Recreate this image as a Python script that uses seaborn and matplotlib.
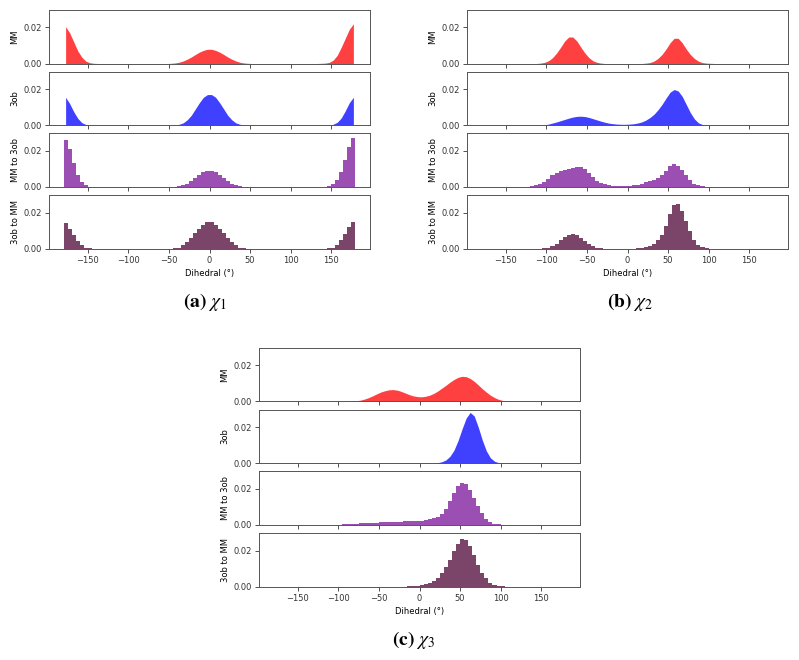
import numpy as np
import pandas as pd
import seaborn as sns
import matplotlib
matplotlib.use("Agg")
import matplotlib.pyplot as plt
from matplotlib.ticker import FormatStrFormatter

# Dihedral histograms, 5 degree bins from -180 to 180, density in units of 1e-4
edges = np.arange(-180, 181, 5)
centers = edges[:-1] + 2.5
labels = ["MM", "3ob", "MM to 3ob", "3ob to MM"]
colors = ["#ff4040", "#4040ff", "#9b4fb3", "#7b4569"]
elements = ["poly", "poly", "step", "step"]

# chi 1
chi1_mm = ([205, 170, 120, 70, 35, 13, 4, 1] + [0] * 18 + [1, 3, 7, 14, 24, 36, 50, 63, 73, 79]
           + [79, 73, 63, 50, 36, 24, 14, 7, 3, 1] + [0] * 17 + [1, 2, 6, 18, 45, 90, 140, 190, 220])
chi1_3ob = ([155, 120, 75, 38, 14, 4, 1] + [0] * 20 + [1, 5, 13, 30, 55, 90, 125, 155, 170]
            + [170, 155, 125, 90, 55, 30, 13, 5, 1] + [0] * 20 + [1, 5, 16, 40, 80, 125, 155])
chi1_mm_to_3ob = ([260, 210, 130, 65, 25, 8, 2] + [0] * 20 + [1, 4, 9, 17, 30, 48, 65, 80, 88]
                  + [88, 80, 65, 48, 30, 17, 9, 4, 1] + [0] * 19 + [1, 4, 15, 40, 85, 150, 220, 270])
chi1_3ob_to_mm = ([140, 110, 75, 42, 18, 5, 1] + [0] * 20 + [1, 6, 18, 35, 58, 85, 110, 130, 145]
                  + [145, 130, 110, 85, 58, 35, 18, 6, 1] + [0] * 20 + [1, 5, 20, 45, 80, 120, 150])

# chi 2
chi2_mm = ([0] * 14 + [2, 6, 15, 32, 58, 90, 125, 147, 147, 125, 90, 58, 32, 15, 6, 2] + [0] * 6
           + [0] * 4 + [2, 5, 13, 28, 50, 80, 115, 140, 140, 115, 80, 50, 28, 13, 5, 2, 1] + [0] * 15)
chi2_3ob = ([0] * 15 + [2, 6, 12, 18, 25, 32, 39, 45, 49, 50, 48, 43, 36, 29, 22, 16, 11, 8, 6, 5, 5]
            + [6, 8, 12, 18, 28, 42, 60, 85, 115, 150, 183, 198, 190, 160, 115, 70, 35, 13, 4, 1] + [0] * 16)
chi2_mm_to_3ob = ([0] * 10 + [1, 2, 4, 8, 15, 28, 45, 65, 78, 88, 95, 100, 103, 108, 110, 98, 78, 55,
                              35, 22, 14, 10, 7, 6, 5, 5]
                  + [6, 8, 12, 18, 25, 33, 40, 48, 65, 90, 118, 128, 118, 95, 65, 38, 18, 8, 4, 2, 1] + [0] * 15)
chi2_3ob_to_mm = ([0] * 15 + [2, 6, 14, 28, 45, 62, 75, 80, 75, 60, 42, 25, 12, 5, 2] + [0] * 6
                  + [0, 0, 1, 3, 7, 14, 25, 45, 75, 125, 190, 240, 250, 210, 155, 95, 50, 22, 8, 2] + [0] * 16)

# chi 3
chi3_mm = ([0] * 18 + [1, 2, 4, 8, 14, 22, 32, 43, 53, 60, 65, 66, 63, 56, 47, 38, 31, 27]
           + [26, 29, 35, 45, 58, 74, 90, 107, 122, 134, 140, 138, 128, 112, 92, 71, 52, 35, 22, 12, 6, 3, 1]
           + [0] * 13)
chi3_3ob = ([0] * 36 + [0, 0, 0, 1, 3, 8, 18, 38, 72, 125, 190, 250, 282, 262, 200, 128, 68, 30, 11, 3, 1]
            + [0] * 15)
chi3_mm_to_3ob = ([0] * 15 + [1, 2, 3, 4, 5, 6, 8, 9, 10, 12, 13, 14, 15, 16, 17, 17, 18, 19, 19, 20, 21]
                  + [23, 26, 30, 36, 45, 62, 90, 130, 175, 215, 235, 225, 195, 150, 105, 65, 35, 16, 6, 3, 2, 1]
                  + [0] * 14)
chi3_3ob_to_mm = ([0] * 33 + [1, 2, 4]
                  + [7, 12, 20, 32, 50, 75, 108, 148, 195, 238, 265, 258, 225, 175, 122, 78, 45, 22, 10, 4, 1]
                  + [0] * 15)

plt.rcParams['font.family'] = ['DejaVu Sans']
plt.rcParams['font.size'] = 6
plt.rcParams['mathtext.fontset'] = 'stix'

W, H = 799, 660
fig = plt.figure(figsize=(W / 100, H / 100), dpi=100)


def draw_panel(series, left, top, caption, cap_x, cap_y):
    step = 61.7
    h = 53.5
    w = 321
    for k, vals in enumerate(series):
        t = top + k * step
        ax = fig.add_axes([left / W, 1 - (t + h) / H, w / W, h / H])
        df = pd.DataFrame({'angle': centers, 'density': np.array(vals, dtype=float) * 1e-4})
        sns.histplot(data=df, x='angle', weights='density', bins=list(edges),
                     element=elements[k], fill=True, color=colors[k], alpha=1,
                     linewidth=0, ax=ax)
        ax.set_xlim(-198, 198)
        ax.set_ylim(0, 0.0297)
        ax.set_xticks([-150, -100, -50, 0, 50, 100, 150])
        ax.set_yticks([0, 0.02])
        ax.yaxis.set_major_formatter(FormatStrFormatter('%.2f'))
        ax.set_ylabel(labels[k], fontsize=6, labelpad=3)
        ax.tick_params(length=3, width=0.6, pad=2, labelsize=6, colors='#333333')
        for sp in ax.spines.values():
            sp.set_linewidth(0.7)
            sp.set_color('#555555')
        if k < 3:
            ax.set_xticklabels([])
            ax.set_xlabel('')
        else:
            ax.set_xlabel('Dihedral (°)', fontsize=6, labelpad=3)
    fig.text(cap_x / W, 1 - cap_y / H, caption, ha='center', va='center', fontsize=14)


draw_panel([chi1_mm, chi1_3ob, chi1_mm_to_3ob, chi1_3ob_to_mm], 49, 10,
           r'$\mathbf{(a)}\ \chi_1$', 205, 302)
draw_panel([chi2_mm, chi2_3ob, chi2_mm_to_3ob, chi2_3ob_to_mm], 467, 10,
           r'$\mathbf{(b)}\ \chi_2$', 630, 302)
draw_panel([chi3_mm, chi3_3ob, chi3_mm_to_3ob, chi3_3ob_to_mm], 259, 348,
           r'$\mathbf{(c)}\ \chi_3$', 413, 640)

fig.savefig('out.png', dpi=100)
